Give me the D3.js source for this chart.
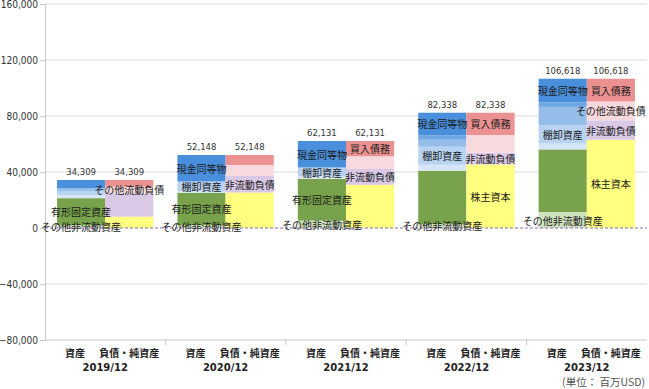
<!DOCTYPE html>
<html>
<head>
<meta charset="utf-8">
<script src="https://cdn.jsdelivr.net/npm/d3@7"></script>
<style>
  body { margin: 0; background: #fff; }
  svg { display: block; }
</style>
</head>
<body>
<div id="chart"></div>
<script>
const W = 649, H = 389;

// data (百万USD)
const years = ["2019/12", "2020/12", "2021/12", "2022/12", "2023/12"];
const totals = [34309, 52148, 62131, 82338, 106618];
const sides = ["資産", "負債・純資産"];

// assets, bottom -> top
const otherNonCurrentAssets = [2100, 2100, 5300, 2900, 11400];
const ppe = [19209, 23048, 29731, 37938, 44718];
const otherCurrentAssets = [2300, 1200, 2100, 4300, 4200];
const inventory = [2900, 6100, 5400, 12900, 13000];
const receivables = [1900, 1100, 1000, 5000, 13200];
const shortInvest = [0, 0, 0, 3200, 3200];
const cash = [5900, 18600, 18600, 16100, 16900];

// liabilities + equity, bottom -> top
const equity = [8109, 25348, 30931, 45438, 63018];
const nonCurrentLiab = [16700, 11900, 11200, 8400, 13900];
const otherCurrentLiab = [4700, 7800, 9100, 12600, 13500];
const payables = [4800, 7100, 10900, 15900, 16200];

const yTicks = [-80000, -40000, 0, 40000, 80000, 120000, 160000];

// which segment labels the reference shows per year
const shownLabels = [
  ["有形固定資産", "その他非流動資産", "その他流動負債"],
  ["現金同等物", "棚卸資産", "有形固定資産", "その他非流動資産", "非流動負債"],
  ["現金同等物", "棚卸資産", "有形固定資産", "その他非流動資産", "買入債務", "非流動負債"],
  ["現金同等物", "棚卸資産", "その他非流動資産", "買入債務", "非流動負債", "株主資本"],
  ["現金同等物", "棚卸資産", "その他非流動資産", "買入債務", "その他流動負債", "非流動負債", "株主資本"]
];

const assetSeries = [
  {key: "その他非流動資産", values: otherNonCurrentAssets, color: "#cfe2bf"},
  {key: "有形固定資産", values: ppe, color: "#78a24b"},
  {key: "その他流動資産", values: otherCurrentAssets, color: "#d6e6f7"},
  {key: "棚卸資産", values: inventory, color: "#b8d3f1"},
  {key: "売上債権", values: receivables, color: "#95bdea"},
  {key: "短期投資", values: shortInvest, color: "#6ea6e2"},
  {key: "現金同等物", values: cash, color: "#4a8fdb"}
];
const liabSeries = [
  {key: "株主資本", values: equity, color: "#ffff80"},
  {key: "非流動負債", values: nonCurrentLiab, color: "#d9c9e6"},
  {key: "その他流動負債", values: otherCurrentLiab, color: "#f8d9de"},
  {key: "買入債務", values: payables, color: "#eb9191"}
];

const svg = d3.select("#chart").append("svg")
  .attr("width", W).attr("height", H)
  .style("background-color", "#fff");

const x = d3.scaleBand().domain(years).range([45, 647]);
const xs = d3.scaleBand().domain(sides).range([0, x.bandwidth()])
  .paddingInner(0).paddingOuter(0.25);
const y = d3.scaleLinear().domain([-80000, 160000]).range([340, 4]);

// grid
svg.append("g").selectAll("line")
  .data(yTicks.filter(d => d !== 0 && d !== -80000))
  .join("line")
    .attr("x1", 45).attr("x2", 647)
    .attr("y1", d => y(d)).attr("y2", d => y(d))
    .attr("stroke", "#d9d9d9").attr("stroke-width", 1);

// left axis
const yAxis = svg.append("g")
  .attr("transform", "translate(45,0)")
  .call(d3.axisLeft(y).tickValues(yTicks).tickFormat(d3.format(",")).tickSize(5).tickPadding(2));
yAxis.select(".domain").attr("stroke", "#c8c8c8");
yAxis.selectAll(".tick line").attr("stroke", "#c8c8c8");
yAxis.selectAll("text").attr("fill", "#333")
  .style("font-family", "'DejaVu Sans Condensed', 'DejaVu Sans', sans-serif").style("font-size", "10px");

// bottom axis line + ticks at category boundaries
svg.append("line")
  .attr("x1", 45).attr("x2", 647)
  .attr("y1", y(-80000)).attr("y2", y(-80000))
  .attr("stroke", "#c8c8c8");
svg.append("g").selectAll("line")
  .data(years.slice(1))
  .join("line")
    .attr("x1", d => x(d)).attr("x2", d => x(d))
    .attr("y1", y(-80000)).attr("y2", y(-80000) + 5)
    .attr("stroke", "#c8c8c8");

// stacks
function stackRows(series) {
  return years.map((yr, i) => {
    const row = {year: yr, i: i};
    series.forEach(s => row[s.key] = s.values[i]);
    return row;
  });
}

const segLabels = [];

function drawSide(series, side) {
  const stacked = d3.stack().keys(series.map(s => s.key))(stackRows(series));
  const g = svg.append("g");
  stacked.forEach((layer, li) => {
    g.append("g").attr("fill", series[li].color)
      .selectAll("rect")
      .data(layer)
      .join("rect")
        .attr("x", d => x(d.data.year) + xs(side))
        .attr("y", d => y(d[1]))
        .attr("width", xs.bandwidth())
        .attr("height", d => Math.max(0, y(d[0]) - y(d[1])));
    layer.forEach(d => {
      if (shownLabels[d.data.i].includes(layer.key)) {
        segLabels.push({
          text: layer.key,
          x: x(d.data.year) + xs(side) + xs.bandwidth() / 2,
          y: (y(d[0]) + y(d[1])) / 2
        });
      }
    });
  });
}
drawSide(assetSeries, "資産");
drawSide(liabSeries, "負債・純資産");

// zero line
svg.append("line")
  .attr("x1", 45).attr("x2", 647)
  .attr("y1", y(0)).attr("y2", y(0))
  .attr("stroke", "#8a6bbd").attr("stroke-width", 1)
  .attr("stroke-dasharray", "3,2");

// segment labels
svg.append("g").selectAll("text")
  .data(segLabels)
  .join("text")
    .attr("x", d => d.x).attr("y", d => d.y)
    .attr("text-anchor", "middle").attr("dominant-baseline", "central")
    .attr("fill", "#1a1a1a")
    .style("font-family", "'Noto Sans CJK JP', sans-serif").style("font-size", "10px")
    .text(d => d.text);

// totals above bars
const totalLabels = [];
years.forEach((yr, i) => sides.forEach(s => totalLabels.push({year: yr, side: s, v: totals[i]})));
svg.append("g").selectAll("text")
  .data(totalLabels)
  .join("text")
    .attr("x", d => x(d.year) + xs(d.side) + xs.bandwidth() / 2)
    .attr("y", d => y(d.v) - 5)
    .attr("text-anchor", "middle")
    .attr("fill", "#333")
    .style("font-family", "'DejaVu Sans', Verdana, sans-serif").style("font-size", "8.5px")
    .text(d => d3.format(",")(d.v));

// category labels
const catG = svg.append("g");
years.forEach(yr => {
  sides.forEach((s, si) => {
    catG.append("text")
      .attr("x", x(yr) + xs(s) + xs.bandwidth() / 2 + (si === 0 ? -6 : 0))
      .attr("y", 357)
      .attr("text-anchor", "middle")
      .attr("fill", "#222").attr("font-weight", "bold")
      .style("font-family", "'Noto Sans CJK JP', sans-serif").style("font-size", "10px")
      .text(s);
  });
  catG.append("text")
    .attr("x", x(yr) + x.bandwidth() / 2)
    .attr("y", 371)
    .attr("text-anchor", "middle")
    .attr("fill", "#222").attr("font-weight", "bold")
    .style("font-family", "'DejaVu Sans', Verdana, sans-serif").style("font-size", "10px")
    .text(yr);
});

svg.append("text")
  .attr("x", 645).attr("y", 386)
  .attr("text-anchor", "end")
  .attr("fill", "#555")
  .style("font-family", "'Noto Sans CJK JP', sans-serif").style("font-size", "10.5px")
  .text("(単位： 百万USD)");
</script>
</body>
</html>
